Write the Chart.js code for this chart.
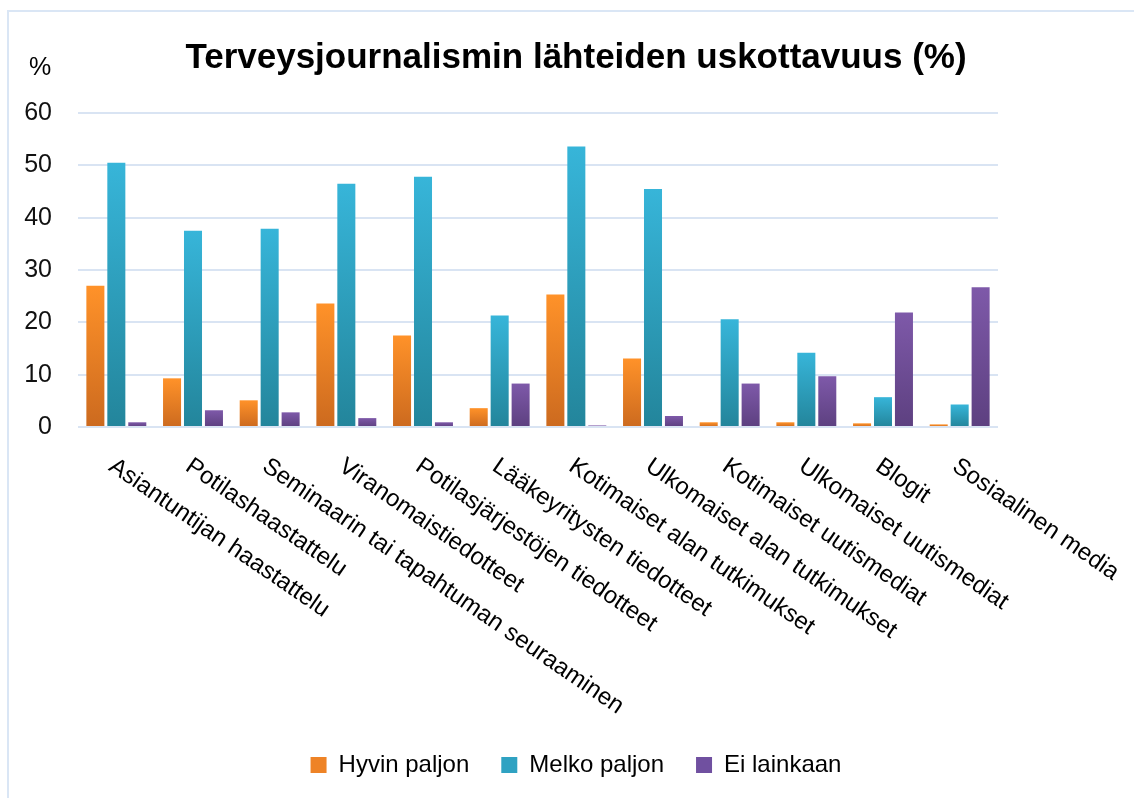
<!DOCTYPE html>
<html>
<head>
<meta charset="utf-8">
<script src="https://cdn.jsdelivr.net/npm/chart.js@4"></script>
<style>
    body { margin: 0; background: #fff; }
    canvas { display: block; }
</style>
</head>
<body>
<canvas id="sourcesChart" width="1134" height="798"></canvas>
<script>
// ============================================
// DATA
// ============================================
const categories = [
    'Asiantuntijan haastattelu',
    'Potilashaastattelu',
    'Seminaarin tai tapahtuman seuraaminen',
    'Viranomaistiedotteet',
    'Potilasjärjestöjen tiedotteet',
    'Lääkeyritysten tiedotteet',
    'Kotimaiset alan tutkimukset',
    'Ulkomaiset alan tutkimukset',
    'Kotimaiset uutismediat',
    'Ulkomaiset uutismediat',
    'Blogit',
    'Sosiaalinen media'
];
const seriesNames = ['Hyvin paljon', 'Melko paljon', 'Ei lainkaan'];
const hyvinPaljon = [27.0, 9.3, 5.1, 23.6, 17.5, 3.6, 25.3, 13.1, 0.9, 0.9, 0.7, 0.5];
const melkoPaljon = [50.5, 37.5, 37.9, 46.5, 47.8, 21.3, 53.6, 45.5, 20.6, 14.2, 5.7, 4.3];
const eiLainkaan  = [0.9, 3.2, 2.8, 1.7, 0.9, 8.3, 0.3, 2.1, 8.3, 9.7, 21.9, 26.7];
const yTicks = [0, 10, 20, 30, 40, 50, 60];

const FONT = '"Liberation Sans", Arial, sans-serif';

// top / bottom colour of each bar gradient, plus a flat colour for the legend
const palette = [
    { top: '#ff9229', bottom: '#cc6a1f', flat: '#ee8326' },
    { top: '#37b5d9', bottom: '#23859b', flat: '#2fa2c2' },
    { top: '#7e59a9', bottom: '#5d4080', flat: '#7050a0' }
];

function barGradient(colors) {
    return function(ctx) {
        const chart = ctx.chart;
        const {chartArea, scales} = chart;
        if (!chartArea || ctx.type !== 'data') return colors.top;
        const y0 = scales.y.getPixelForValue(0);
        const y1 = scales.y.getPixelForValue(ctx.raw);
        if (y0 - y1 < 1) return colors.top;
        const g = chart.ctx.createLinearGradient(0, y1, 0, y0);
        g.addColorStop(0, colors.top);
        g.addColorStop(1, colors.bottom);
        return g;
    };
}

// slanted category labels + "%" unit + light frame
const extrasPlugin = {
    id: 'extras',
    afterDraw(chart) {
        const {ctx, chartArea, scales: {x}} = chart;
        ctx.save();
        ctx.fillStyle = '#000';
        ctx.font = '24px ' + FONT;
        ctx.textAlign = 'left';
        ctx.textBaseline = 'middle';
        categories.forEach((label, i) => {
            ctx.save();
            ctx.translate(x.getPixelForTick(i) - 5, chartArea.bottom + 37);
            ctx.rotate(34.5 * Math.PI / 180);
            ctx.fillText(label, 0, 0);
            ctx.restore();
        });

        ctx.textAlign = 'center';
        ctx.font = '25px ' + FONT;
        ctx.fillText('%', 40, chartArea.top - 45);

        ctx.strokeStyle = '#dae6f5';
        ctx.lineWidth = 2;
        ctx.strokeRect(8, 11, chart.width, chart.height);
        ctx.restore();
    }
};

const seriesData = [hyvinPaljon, melkoPaljon, eiLainkaan];

new Chart(document.getElementById('sourcesChart').getContext('2d'), {
    type: 'bar',
    data: {
        labels: categories,
        datasets: seriesNames.map((name, i) => ({
            label: name,
            data: seriesData[i],
            backgroundColor: barGradient(palette[i]),
            borderWidth: 0,
            categoryPercentage: 0.82,
            barPercentage: 0.86
        }))
    },
    options: {
        responsive: false,
        animation: false,
        layout: { padding: { left: 18, right: 0, top: 0, bottom: 11 } },
        plugins: {
            title: {
                display: true,
                text: 'Terveysjournalismin lähteiden uskottavuus (%)',
                color: '#000',
                font: { family: FONT, size: 35, weight: 'bold' },
                padding: { top: 37, bottom: 34 }
            },
            legend: {
                position: 'bottom',
                labels: {
                    color: '#000',
                    font: { family: FONT, size: 24 },
                    boxWidth: 16,
                    boxHeight: 16,
                    padding: 32,
                    generateLabels: chart => chart.data.datasets.map((ds, i) => ({
                        text: ds.label,
                        fillStyle: palette[i].flat,
                        strokeStyle: palette[i].flat,
                        lineWidth: 0,
                        hidden: false,
                        datasetIndex: i
                    }))
                }
            },
            tooltip: { enabled: false }
        },
        scales: {
            x: {
                grid: { display: false },
                border: { display: false },
                ticks: { display: false },
                afterFit: s => { s.height = 294; }
            },
            y: {
                position: 'left',
                min: yTicks[0],
                max: yTicks[yTicks.length - 1],
                afterBuildTicks: s => { s.ticks = yTicks.map(v => ({ value: v })); },
                grid: { color: '#d9e4f3', lineWidth: 2, drawTicks: false },
                border: { display: false },
                ticks: {
                    color: '#111',
                    font: { family: FONT, size: 25 },
                    padding: 26
                },
                afterFit: s => { s.width = 60; }
            },
            yRight: {
                position: 'right',
                grid: { display: false, drawTicks: false },
                border: { display: false },
                ticks: { display: false },
                afterFit: s => { s.width = 136; }
            }
        }
    },
    plugins: [extrasPlugin]
});
</script>
</body>
</html>
